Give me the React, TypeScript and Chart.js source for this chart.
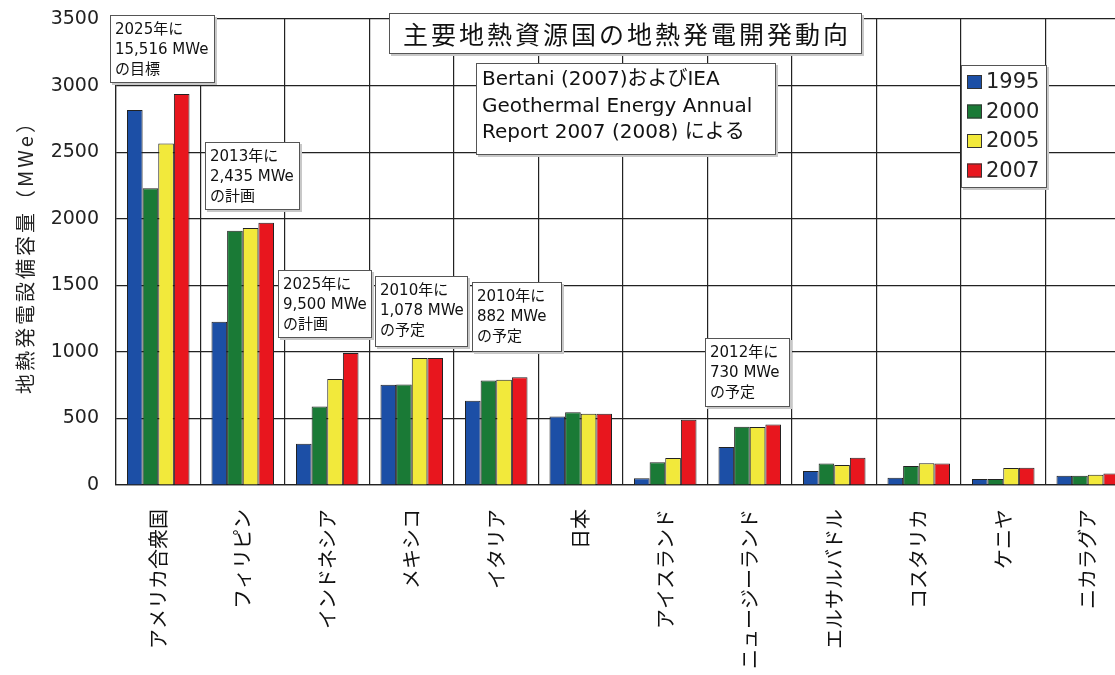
import React, { useEffect, useRef } from 'react';
import { Chart, registerables } from 'chart.js';

Chart.register(...registerables);

// ---- data ----
const categories = [
  'アメリカ合衆国', 'フィリピン', 'インドネシア', 'メキシコ', 'イタリア', '日本',
  'アイスランド', 'ニュージーランド', 'エルサルバドル', 'コスタリカ', 'ケニヤ', 'ニカラグア',
];
const seriesLabels = ['1995', '2000', '2005', '2007'];
const values1995 = [2817, 1227, 309, 753, 632, 514, 50, 286, 105, 55, 45, 70];
const values2000 = [2228, 1909, 590, 755, 785, 547, 170, 437, 161, 143, 45, 70];
const values2005 = [2564, 1930, 797, 953, 790, 535, 202, 435, 151, 163, 127, 77];
const values2007 = [2937, 1970, 992, 953, 810, 535, 490, 455, 204, 162, 129, 87];
const yMin = 0;
const yMax = 3500;
const yStep = 500;

const chartTitle = '主要地熱資源国の地熱発電開発動向';
const sourceLines = ['Bertani (2007)およびIEA', 'Geothermal Energy Annual', 'Report 2007 (2008) による'];
const yAxisTitle = '地熱発電設備容量（MWe）';
const noteTexts = [
  ['2025年に', '15,516 MWe', 'の目標'],
  ['2013年に', '2,435 MWe', 'の計画'],
  ['2025年に', '9,500 MWe', 'の計画'],
  ['2010年に', '1,078 MWe', 'の予定'],
  ['2010年に', '882 MWe', 'の予定'],
  ['2012年に', '730 MWe', 'の予定'],
];

// ---- layout / style (kept apart from data) ----
const seriesColors = ['#1c4fa6', '#1a7a36', '#f2e93b', '#e8161e'];
const noteBoxes = [
  { x: 110, y: 15, w: 105, h: 68 },
  { x: 205, y: 142, w: 95, h: 68 },
  { x: 278, y: 270, w: 94, h: 68 },
  { x: 375, y: 276, w: 93, h: 71 },
  { x: 472, y: 282, w: 90, h: 70 },
  { x: 705, y: 338, w: 85, h: 69 },
];
const LATIN = "'DejaVu Sans', 'Noto Sans CJK JP', sans-serif";
const CJK = "'Noto Sans CJK JP', 'DejaVu Sans', sans-serif";

function drawBox(ctx: CanvasRenderingContext2D, x: number, y: number, w: number, h: number) {
  ctx.fillStyle = '#c8c8c8';
  ctx.fillRect(x + 2, y + 2, w, h);
  ctx.fillStyle = '#ffffff';
  ctx.fillRect(x, y, w, h);
  ctx.strokeStyle = '#555';
  ctx.lineWidth = 1;
  ctx.strokeRect(x + 0.5, y + 0.5, w - 1, h - 1);
}

const overlayPlugin = {
  id: 'overlay',
  afterDraw(chart: any) {
    const ctx: CanvasRenderingContext2D = chart.ctx;
    ctx.save();
    ctx.textBaseline = 'middle';
    ctx.textAlign = 'left';

    // y axis title
    ctx.save();
    ctx.translate(25, 252);
    ctx.rotate(-Math.PI / 2);
    ctx.fillStyle = '#222';
    ctx.font = `20px ${CJK}`;
    (ctx as any).letterSpacing = '3px';
    ctx.textAlign = 'center';
    ctx.fillText(yAxisTitle, 0, 0);
    ctx.restore();

    // title
    drawBox(ctx, 389, 13, 473, 41);
    ctx.save();
    ctx.fillStyle = '#111';
    ctx.font = `25px ${CJK}`;
    (ctx as any).letterSpacing = '3px';
    ctx.fillText(chartTitle, 403, 34);
    ctx.restore();

    // source box
    drawBox(ctx, 476, 63, 300, 92);
    ctx.fillStyle = '#111';
    ctx.font = `20px ${LATIN}`;
    sourceLines.forEach((t, i) => ctx.fillText(t, 482, 80 + i * 26.5));

    // notes
    ctx.font = `15px ${LATIN}`;
    noteTexts.forEach((lines, i) => {
      const b = noteBoxes[i];
      drawBox(ctx, b.x, b.y, b.w, b.h);
      ctx.fillStyle = '#111';
      lines.forEach((t, j) => ctx.fillText(t, b.x + 5, b.y + 15 + j * 20));
    });

    // legend
    drawBox(ctx, 961, 65, 86, 123);
    ctx.font = `21px ${LATIN}`;
    chart.data.datasets.forEach((ds: any, i: number) => {
      const cy = 82 + i * 29.5;
      ctx.fillStyle = ds.backgroundColor;
      ctx.fillRect(967, cy - 7, 15, 14);
      ctx.strokeStyle = '#333';
      ctx.strokeRect(967.5, cy - 6.5, 14, 13);
      ctx.fillStyle = '#222';
      ctx.fillText(ds.label, 986, cy + 1);
    });

    ctx.restore();
  },
};

export default function App() {
  const ref = useRef<HTMLCanvasElement | null>(null);

  useEffect(() => {
    if (!ref.current) return;
    const seriesValues = [values1995, values2000, values2005, values2007];
    const chart = new Chart(ref.current, {
      type: 'bar',
      data: {
        labels: categories,
        datasets: seriesLabels.map((label, i) => ({
          label,
          data: seriesValues[i],
          backgroundColor: seriesColors[i],
          borderColor: '#222',
          borderWidth: 1,
          categoryPercentage: 0.74,
          barPercentage: 1.0,
        })),
      },
      options: {
        animation: false,
        responsive: false,
        maintainAspectRatio: false,
        layout: { padding: { top: 19, right: 10, bottom: 0, left: 0 } },
        plugins: {
          legend: { display: false },
          title: { display: false },
          tooltip: { enabled: false },
        },
        scales: {
          x: {
            grid: { color: '#222', lineWidth: 1.2, drawTicks: false, offset: true },
            border: { color: '#222', width: 1.2 },
            ticks: {
              minRotation: 90,
              maxRotation: 90,
              autoSkip: false,
              padding: 24,
              color: '#111',
              font: { family: CJK, size: 20 },
            },
            afterFit: (s: any) => {
              s.height = 190;
              s.paddingLeft = 0;
              s.paddingRight = 0;
            },
          },
          y: {
            min: yMin,
            max: yMax,
            ticks: {
              stepSize: yStep,
              padding: 17,
              color: '#222',
              font: { family: LATIN, size: 19 },
              callback: (v: any) => String(v),
            },
            grid: { color: '#222', lineWidth: 1.2, drawTicks: false },
            border: { color: '#222', width: 1.2 },
            afterFit: (s: any) => {
              s.width = 116;
              s.paddingTop = 0;
              s.paddingBottom = 0;
            },
          },
        },
      },
      plugins: [overlayPlugin],
    });
    return () => chart.destroy();
  }, []);

  return (
    <div style={{ position: 'absolute', left: 0, top: 0, width: 1115, height: 675, overflow: 'hidden', background: '#fff' }}>
      <canvas ref={ref} width={1140} height={675} style={{ display: 'block' }} />
    </div>
  );
}
